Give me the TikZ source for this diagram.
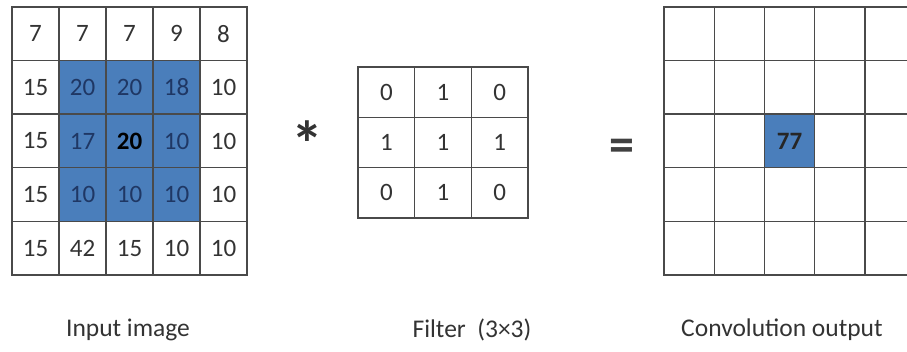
\documentclass[tikz,border=0pt]{standalone}
\usepackage{fontspec}
\setmainfont{Carlito}
\definecolor{cellblue}{HTML}{4A7EBB}
\definecolor{navytxt}{HTML}{1F3764}
\definecolor{graytxt}{HTML}{333333}
\definecolor{gridln}{HTML}{4A4A4A}
\begin{document}
\begin{tikzpicture}[x=1pt,y=1pt,
  cell/.style={draw=gridln,line width=1.4pt,inner sep=0pt,anchor=center,text=graytxt,font=\fontsize{25}{28}\selectfont},
  incell/.style={cell,minimum width=47pt,minimum height=53.6pt},
  fcell/.style={cell,minimum width=56.67pt,minimum height=50.33pt},
  ocell/.style={cell,minimum width=50.25pt,minimum height=53.6pt},
  hl/.style={fill=cellblue,text=navytxt},
  lbl/.style={text=graytxt,font=\fontsize{25.5}{28}\selectfont}]
\useasboundingbox (0,0) rectangle (907,352);
% Input image 5x5
\foreach \r/\row in {0/{7,7,7,9,8},1/{15,20,20,18,10},2/{15,17,20,10,10},3/{15,10,10,10,10},4/{15,42,15,10,10}}{
  \foreach \v [count=\c from 0] in \row {
    \pgfmathsetmacro{\isin}{(\r>0)&&(\r<4)&&(\c>0)&&(\c<4)?1:0}
    \ifdim\isin pt>0.5pt
      \ifnum\r=2 \ifnum\c=2
        \node[incell,hl,text=black] (in-\r-\c) at ({12+47*\c+23.5},{352-(7+53.6*\r+26.8)}) {\textbf{\v}};
      \else
        \node[incell,hl] (in-\r-\c) at ({12+47*\c+23.5},{352-(7+53.6*\r+26.8)}) {\v};
      \fi\else
        \node[incell,hl] (in-\r-\c) at ({12+47*\c+23.5},{352-(7+53.6*\r+26.8)}) {\v};
      \fi
    \else
      \node[incell] (in-\r-\c) at ({12+47*\c+23.5},{352-(7+53.6*\r+26.8)}) {\v};
    \fi
  }
}
% Filter 3x3
\foreach \r/\row in {0/{0,1,0},1/{1,1,1},2/{0,1,0}}{
  \foreach \v [count=\c from 0] in \row {
    \node[fcell] (f-\r-\c) at ({358+56.67*\c+28.33},{352-(67+50.33*\r+25.17)}) {\v};
  }
}
% Output 5x5
\foreach \r in {0,...,4}{
  \foreach \c in {0,...,4}{
    \node[ocell] (o-\r-\c) at ({664+50.25*\c+25.125},{352-(7+53.6*\r+26.8)}) {};
  }
}
\node[ocell,hl,text=black!85] (o77) at (o-2-2) {\textbf{77}};
% operators
\node[text=black!80,font=\fontsize{64}{64}\selectfont\bfseries,inner sep=0pt] (ast) at (307,208) {*};
\node[text=black!75,font=\fontsize{50}{50}\selectfont\bfseries,inner sep=0pt] (eq) at (622,202) {=};
% labels
\node[lbl] (l1) at (128,22) {Input image};
\node[lbl] (l2) at (472,22) {Filter\ \ (3×3)};
\node[lbl] (l3) at (782,22) {Convolution output};
\end{tikzpicture}
\end{document}
